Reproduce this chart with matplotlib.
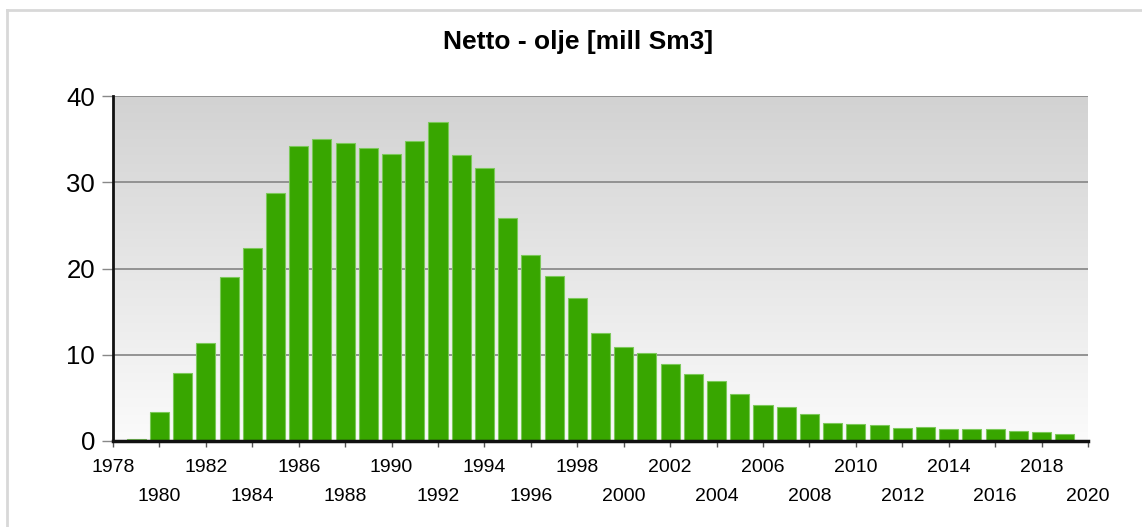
import matplotlib
matplotlib.use("Agg")
import matplotlib.pyplot as plt
import numpy as np
from matplotlib.lines import Line2D
from matplotlib.colors import LinearSegmentedColormap

years = list(range(1979, 2020))
values = [0.23, 3.36, 7.88, 11.35, 19.0, 22.4, 28.7, 34.26, 34.96, 34.6,
          34.0, 33.3, 34.8, 36.96, 33.2, 31.7, 25.9, 21.55, 19.1, 16.6,
          12.5, 10.85, 10.15, 8.87, 7.75, 6.94, 5.5, 4.22, 3.93, 3.1,
          2.08, 1.97, 1.89, 1.5, 1.58, 1.35, 1.35, 1.43, 1.12, 1.0, 0.78]
row1_ticks = list(range(1978, 2020, 4))
row2_ticks = list(range(1980, 2021, 4))
yticks = [0, 10, 20, 30, 40]
title = "Netto - olje [mill Sm3]"

plt.rcParams['font.family'] = ['Liberation Sans', 'DejaVu Sans']

W, H = 1142, 527
fig = plt.figure(figsize=(W / 100, H / 100), dpi=100)
ax = fig.add_axes([113 / W, 1 - 441 / H, (1088 - 113) / W, (441 - 96) / H])

# gradient background
grad = np.linspace(0, 1, 256).reshape(-1, 1)
cmap = LinearSegmentedColormap.from_list("bg", ["#fbfbfb", "#d2d2d2"])
ax.imshow(grad, aspect='auto', cmap=cmap, origin='lower',
          extent=[0, 1, 0, 1], transform=ax.transAxes, zorder=0)

ax.bar(years, values, width=0.82, color="#38a600", edgecolor="#7cc95a",
       linewidth=0.8, zorder=3)

ax.set_xlim(1978, 2020)
ax.set_ylim(0, 40)
ax.set_yticks(yticks)
ax.set_yticklabels([str(v) for v in yticks], fontsize=18.5)
ax.yaxis.grid(True, color="#8c8c8c", linewidth=1.3, zorder=1)
ax.set_axisbelow(True)

ax.set_xticks(row1_ticks)
ax.set_xticklabels([str(v) for v in row1_ticks], fontsize=14)
ax.set_xticks(row2_ticks, minor=True)
ax.set_xticklabels([str(v) for v in row2_ticks], minor=True, fontsize=14)
ax.tick_params(axis='x', which='major', length=4, width=1, color="#555555", pad=9)
ax.tick_params(axis='x', which='minor', length=4, width=1, color="#555555", pad=30)
ax.tick_params(axis='y', length=8, width=1, color="#888888", pad=5)

for s in ['top', 'right']:
    ax.spines[s].set_visible(False)
ax.spines['left'].set_linewidth(2)
ax.spines['left'].set_color("#111111")
ax.spines['bottom'].set_linewidth(2.5)
ax.spines['bottom'].set_color("#111111")
ax.spines['left'].set_zorder(4)
ax.spines['bottom'].set_zorder(4)

fig.text(578 / W, 1 - 42 / H, title, ha='center', va='center',
         fontsize=19, fontweight='bold')

# frame lines (top and left)
fig.add_artist(Line2D([7 / W, 1], [1 - 10 / H, 1 - 10 / H], transform=fig.transFigure,
                      color="#d8d8d8", linewidth=2))
fig.add_artist(Line2D([7 / W, 7 / W], [0, 1 - 10 / H], transform=fig.transFigure,
                      color="#d8d8d8", linewidth=2))

fig.savefig("out.png", dpi=100)
